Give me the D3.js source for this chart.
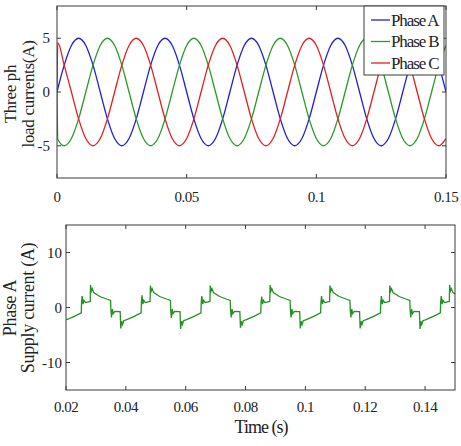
<!DOCTYPE html>
<html><head><meta charset="utf-8">
<script src="https://cdn.jsdelivr.net/npm/d3@7"></script>
<style>
html,body{margin:0;padding:0;background:#fff;}
text{font-family:"Liberation Serif","Times New Roman",serif;fill:#222;}
</style></head>
<body>
<svg id="chart" width="461" height="446"></svg>
<script>
// ---------- Top panel data (three-phase load currents) ----------
const loadTime = [0,0.0003,0.00278,0.00556,0.00833,0.01111,0.01389,0.01667,0.01944,0.02222,0.025,0.02778,0.03056,0.03333,
 0.03611,0.03889,0.04167,0.04444,0.04722,0.05,0.05278,0.05556,0.05833,0.06111,0.06389,0.06667,
 0.06944,0.07222,0.075,0.07778,0.08056,0.08333,0.08611,0.08889,0.09167,0.09444,0.09722,0.1,
 0.10278,0.10556,0.10833,0.11111,0.11389,0.11667,0.11944,0.12222,0.125,0.12778,0.13056,0.13333,
 0.13611,0.13889,0.14167,0.14444,0.14722,0.15];
const phaseA = [0,0.3,2.5,4.33,5,4.33,2.5,0,-2.5,-4.33,-5,-4.33,-2.5,0,
 2.5,4.33,5,4.33,2.5,0,-2.5,-4.33,-5,-4.33,-2.5,0,
 2.5,4.33,5,4.33,2.5,0,-2.5,-4.33,-5,-4.33,-2.5,0,
 2.5,4.33,5,4.33,2.5,0,-2.5,-4.33,-5,-4.33,-2.5,0,
 2.5,4.33,5,4.33,2.5,0];
const phaseB = [0,-4.4,-5,-4.33,-2.5,0,2.5,4.33,5,4.33,2.5,0,-2.5,-4.33,
 -5,-4.33,-2.5,0,2.5,4.33,5,4.33,2.5,0,-2.5,-4.33,
 -5,-4.33,-2.5,0,2.5,4.33,5,4.33,2.5,0,-2.5,-4.33,
 -5,-4.33,-2.5,0,2.5,4.33,5,4.33,2.5,0,-2.5,-4.33,
 -5,-4.33,-2.5,0,2.5,4.33];
const phaseC = [0,4.6,2.5,0,-2.5,-4.33,-5,-4.33,-2.5,0,2.5,4.33,5,4.33,
 2.5,0,-2.5,-4.33,-5,-4.33,-2.5,0,2.5,4.33,5,4.33,
 2.5,0,-2.5,-4.33,-5,-4.33,-2.5,0,2.5,4.33,5,4.33,
 2.5,0,-2.5,-4.33,-5,-4.33,-2.5,0,2.5,4.33,5,4.33,
 2.5,0,-2.5,-4.33,-5,-4.33];
const phaseNames = ["Phase A","Phase B","Phase C"];
const phaseColors = ["#1f1fd8","#2a9a2a","#e02020"];
const topXTicks = [0,0.05,0.1,0.15];
const topXTickLabels = ["0","0.05","0.1","0.15"];
const topYTicks = [-5,0,5];

// ---------- Bottom panel data (phase A supply current) ----------
const supplyCurrent = [
 [0.0200,-2.15],[0.0203,-2.2],[0.0228,-1.6],[0.0251,-0.95],[0.0252,1.0],[0.0254,2.1],[0.0257,0.6],[0.0260,1.3],[0.0265,0.9],[0.0281,1.1],
 [0.0282,4.1],[0.0285,3.0],[0.0288,3.4],[0.0293,2.7],[0.0313,2.0],[0.0338,1.5],[0.0349,1.3],[0.0350,-0.5],[0.0352,-1.8],[0.0355,-0.3],
 [0.0358,-1.1],[0.0363,-0.7],[0.0381,-0.75],
 [0.0383,-3.8],[0.0386,-2.5],[0.0389,-3.1],[0.0393,-2.4],[0.0403,-2.2],[0.0428,-1.6],[0.0451,-0.95],[0.0452,1.0],[0.0454,2.2],[0.0457,0.6],
 [0.0460,1.3],[0.0465,0.9],[0.0481,1.1],[0.0482,4.0],[0.0485,3.0],[0.0488,3.4],[0.0493,2.7],[0.0513,2.0],[0.0538,1.5],[0.0549,1.3],
 [0.0550,-0.5],[0.0552,-1.9],[0.0555,-0.3],[0.0558,-1.1],[0.0563,-0.7],[0.0581,-0.75],
 [0.0583,-3.9],[0.0586,-2.5],[0.0589,-3.1],[0.0593,-2.4],[0.0603,-2.2],[0.0628,-1.6],[0.0651,-0.95],[0.0652,1.0],[0.0654,2.1],[0.0657,0.6],
 [0.0660,1.3],[0.0665,0.9],[0.0681,1.1],[0.0682,4.0],[0.0685,3.0],[0.0688,3.4],[0.0693,2.7],[0.0713,2.0],[0.0738,1.5],[0.0749,1.3],
 [0.0750,-0.5],[0.0752,-1.8],[0.0755,-0.3],[0.0758,-1.1],[0.0763,-0.7],[0.0781,-0.75],
 [0.0783,-3.7],[0.0786,-2.5],[0.0789,-3.1],[0.0793,-2.4],[0.0803,-2.2],[0.0828,-1.6],[0.0851,-0.95],[0.0852,1.0],[0.0854,2.0],[0.0857,0.6],
 [0.0860,1.3],[0.0865,0.9],[0.0881,1.1],[0.0882,4.1],[0.0885,3.0],[0.0888,3.4],[0.0893,2.7],[0.0913,2.0],[0.0938,1.5],[0.0949,1.3],
 [0.0950,-0.5],[0.0952,-1.8],[0.0955,-0.3],[0.0958,-1.1],[0.0963,-0.7],[0.0981,-0.75],
 [0.0983,-3.8],[0.0986,-2.5],[0.0989,-3.1],[0.0993,-2.4],[0.1003,-2.2],[0.1028,-1.6],[0.1051,-0.95],[0.1052,1.0],[0.1054,2.1],[0.1057,0.6],
 [0.1060,1.3],[0.1065,0.9],[0.1081,1.1],[0.1082,4.0],[0.1085,3.0],[0.1088,3.4],[0.1093,2.7],[0.1113,2.0],[0.1138,1.5],[0.1149,1.3],
 [0.1150,-0.5],[0.1152,-1.8],[0.1155,-0.3],[0.1158,-1.1],[0.1163,-0.7],[0.1181,-0.75],
 [0.1183,-3.8],[0.1186,-2.5],[0.1189,-3.1],[0.1193,-2.4],[0.1203,-2.2],[0.1228,-1.6],[0.1251,-0.95],[0.1252,1.0],[0.1254,2.1],[0.1257,0.6],
 [0.1260,1.3],[0.1265,0.9],[0.1281,1.1],[0.1282,4.0],[0.1285,3.0],[0.1288,3.4],[0.1293,2.7],[0.1313,2.0],[0.1338,1.5],[0.1349,1.3],
 [0.1350,-0.5],[0.1352,-1.8],[0.1355,-0.3],[0.1358,-1.1],[0.1363,-0.7],[0.1381,-0.75],
 [0.1383,-3.9],[0.1386,-2.5],[0.1389,-3.1],[0.1393,-2.4],[0.1403,-2.2],[0.1428,-1.6],[0.1451,-0.95],[0.1452,1.0],[0.1454,2.1],[0.1457,0.6],
 [0.1460,1.3],[0.1465,0.9],[0.1481,1.1],[0.1482,4.1],[0.1485,3.0],[0.1488,3.4],[0.1493,2.7],[0.1500,2.5]
];
const botXTicks = [0.02,0.04,0.06,0.08,0.1,0.12,0.14];
const botXTickLabels = ["0.02","0.04","0.06","0.08","0.1","0.12","0.14"];
const botYTicks = [-10,0,10];

const svg = d3.select("#chart");
const axisColor = "#3a3a3a";

function drawFrame(g, x, y, xTicks, xLabels, yTicks, w, h, xLabOff, yLabOff) {
  g.append("rect").attr("x",0).attr("y",0).attr("width",w).attr("height",h)
    .attr("fill","none").attr("stroke",axisColor).attr("stroke-width",1);
  const tl = 4;
  xTicks.forEach((t,i) => {
    const px = x(t);
    g.append("line").attr("x1",px).attr("x2",px).attr("y1",h).attr("y2",h-tl).attr("stroke",axisColor);
    g.append("line").attr("x1",px).attr("x2",px).attr("y1",0).attr("y2",tl).attr("stroke",axisColor);
    g.append("text").attr("x",px).attr("y",h+xLabOff).attr("text-anchor","middle")
      .attr("font-size",15).attr("letter-spacing",-0.5).text(xLabels[i]);
  });
  yTicks.forEach(t => {
    const py = y(t);
    g.append("line").attr("x1",0).attr("x2",tl).attr("y1",py).attr("y2",py).attr("stroke",axisColor);
    g.append("line").attr("x1",w).attr("x2",w-tl).attr("y1",py).attr("y2",py).attr("stroke",axisColor);
    g.append("text").attr("x",-yLabOff).attr("y",py).attr("dy","0.34em").attr("text-anchor","end")
      .attr("font-size",15).text(t);
  });
}

// ---------- Top panel ----------
const T = {left:57, top:6, w:389, h:172};
const gT = svg.append("g").attr("transform",`translate(${T.left},${T.top})`);
const xT = d3.scaleLinear().domain([0,0.15]).range([0,T.w]);
const yT = d3.scaleLinear().domain([-8,8]).range([T.h,0]);
gT.append("clipPath").attr("id","clipT").append("rect").attr("width",T.w).attr("height",T.h);
const lineT = d3.line().x(d=>xT(d[0])).y(d=>yT(d[1])).curve(d3.curveMonotoneX);
[phaseA,phaseB,phaseC].forEach((vals,i) => {
  const pts = loadTime.map((t,k)=>[t,vals[k]]);
  gT.append("path").datum(pts).attr("d",lineT).attr("fill","none")
    .attr("stroke",phaseColors[i]).attr("stroke-width",1.3).attr("clip-path","url(#clipT)");
});
drawFrame(gT, xT, yT, topXTicks, topXTickLabels, topYTicks, T.w, T.h, 24, 7);

// legend
const lg = gT.append("g").attr("transform",`translate(${T.w-82},0)`);
lg.append("rect").attr("x",0).attr("y",0).attr("width",80).attr("height",69)
  .attr("fill","#fff").attr("stroke",axisColor);
phaseNames.forEach((n,i) => {
  const cy = 14 + i*21.5;
  lg.append("line").attr("x1",7).attr("x2",26).attr("y1",cy).attr("y2",cy)
    .attr("stroke",phaseColors[i]).attr("stroke-width",1.3);
  lg.append("text").attr("x",27).attr("y",cy).attr("dy","0.33em").attr("font-size",17)
    .attr("letter-spacing",-1.1).text(n);
});

// y label top
svg.append("text").attr("transform","translate(16,94) rotate(-90)").attr("text-anchor","middle")
  .attr("font-size",17).attr("letter-spacing",-0.3).text("Three ph");
svg.append("text").attr("transform","translate(34,94) rotate(-90)").attr("text-anchor","middle")
  .attr("font-size",17).attr("letter-spacing",-0.3).text("load currents(A)");

// ---------- Bottom panel ----------
const B = {left:66, top:225, w:389, h:165};
const gB = svg.append("g").attr("transform",`translate(${B.left},${B.top})`);
const xB = d3.scaleLinear().domain([0.02,0.15]).range([0,B.w]);
const yB = d3.scaleLinear().domain([-15,15]).range([B.h,0]);
gB.append("clipPath").attr("id","clipB").append("rect").attr("width",B.w).attr("height",B.h);
const lineB = d3.line().x(d=>xB(d[0])).y(d=>yB(d[1]));
gB.append("path").datum(supplyCurrent).attr("d",lineB).attr("fill","none")
  .attr("stroke","#259025").attr("stroke-width",1.3).attr("clip-path","url(#clipB)");
drawFrame(gB, xB, yB, botXTicks, botXTickLabels, botYTicks, B.w, B.h, 22, 4);

svg.append("text").attr("x",261).attr("y",433).attr("text-anchor","middle")
  .attr("font-size",18).attr("letter-spacing",-1).text("Time (s)");
svg.append("text").attr("transform","translate(16,308) rotate(-90)").attr("text-anchor","middle")
  .attr("font-size",18).attr("letter-spacing",-0.3).text("Phase A");
svg.append("text").attr("transform","translate(34,308) rotate(-90)").attr("text-anchor","middle")
  .attr("font-size",18).attr("letter-spacing",-0.3).text("Supply current (A)");
</script>
</body></html>
